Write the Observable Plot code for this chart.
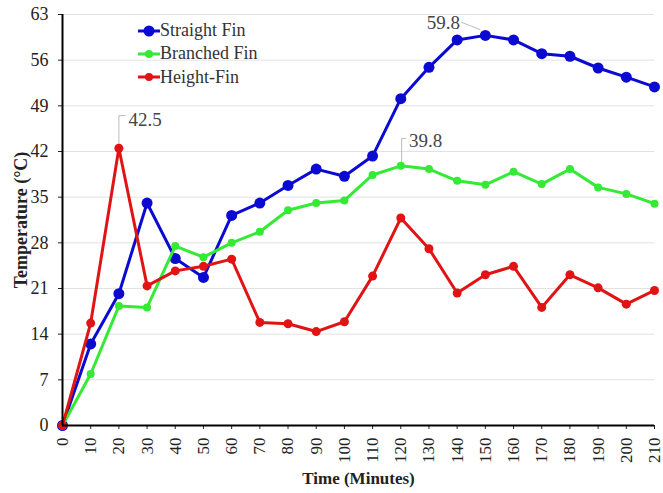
<!DOCTYPE html>
<html><head><meta charset="utf-8">
<script src="https://cdn.jsdelivr.net/npm/d3@7"></script>
<script src="https://cdn.jsdelivr.net/npm/@observablehq/plot@0.6"></script>
<style>
body{margin:0;background:#fff;}
#wrap{position:relative;width:663px;height:493px;}
#legend{position:absolute;left:138px;top:19px;font-size:18px;color:#333;line-height:23.3px;}
#legend div{display:flex;align-items:center;}
</style></head>
<body><div id="wrap"></div>
<script>
const times = [0,10,20,30,40,50,60,70,80,90,100,110,120,130,140,150,160,170,180,190,200,210];
const straightFin = [0,12.5,20.2,34.1,25.6,22.7,32.2,34.1,36.8,39.3,38.2,41.3,50.1,54.9,59.1,59.8,59.1,57.0,56.6,54.8,53.4,51.9];
const branchedFin = [0,7.9,18.3,18.1,27.5,25.8,28.0,29.7,33.0,34.1,34.5,38.4,39.8,39.3,37.5,36.9,38.9,37.0,39.3,36.5,35.5,34.0];
const heightFin   = [0,15.7,42.5,21.4,23.7,24.4,25.5,15.8,15.6,14.4,15.9,22.9,31.8,27.1,20.3,23.1,24.4,18.1,23.1,21.1,18.6,20.7];
const seriesNames = ["Straight Fin","Branched Fin","Height-Fin"];
const seriesColors = ["#0a0ad0","#35ea35","#e01414"];
const dotRadius = [5.5,4,4.5];
const xTicks = d3.range(0,211,10);
const yTicks = d3.range(0,64,7);
const annLabels = [
  {text:"42.5", x:23.4, y:46.9, anchor:"start"},
  {text:"59.8", x:141, y:61.7, anchor:"end"},
  {text:"39.8", x:122.9, y:43.6, anchor:"start"}
];
const leaders = [
  [[20,42.5],[20,47.5],[22.3,47.5]],
  [[148,60.7],[141.6,61.8]],
  [[120.3,39.9],[120.3,44.0],[121.8,44.0]]
];
const SERIF = "'Liberation Serif', serif";

const allSeries = seriesNames.map((name,i)=>({name, values:[straightFin,branchedFin,heightFin][i]}));
const marks = [
  Plot.gridY(yTicks.filter(d=>d>0), {stroke:"#e2e2e2", strokeOpacity:1, strokeWidth:1}),
  Plot.axisY({ticks:yTicks, tickSize:4, tickPadding:10, fontSize:18, label:"Temperature (°C)", labelAnchor:"center", labelArrow:"none", labelOffset:48}),
  Plot.axisX({ticks:xTicks, tickSize:4, tickPadding:8, tickRotate:-90, fontSize:17, label:"Time (Minutes)", labelAnchor:"center", labelArrow:"none", labelOffset:58}),
];
leaders.forEach(pts=>marks.push(Plot.line(pts,{x:d=>d[0],y:d=>d[1],stroke:"#aaa",strokeWidth:0.8})));
allSeries.forEach((s,i)=>{
  const data = times.map((t,j)=>({t, v:s.values[j]}));
  marks.push(Plot.line(data,{x:"t",y:"v",stroke:seriesColors[i],strokeWidth:3}));
  marks.push(Plot.dot(data,{x:"t",y:"v",fill:seriesColors[i],r:dotRadius[i]}));
});
marks.push(Plot.ruleX([0],{stroke:"#000",strokeWidth:2}));
marks.push(Plot.ruleY([0],{stroke:"#000",strokeWidth:2}));
["start","end"].forEach(a=>marks.push(Plot.text(annLabels.filter(d=>d.anchor===a),{x:"x",y:"y",text:"text",textAnchor:a,fontSize:19,fill:"#444"})));

const chart = Plot.plot({
  width:663, height:493,
  marginLeft:62, marginRight:9, marginTop:14, marginBottom:68,
  style:{fontFamily:SERIF, fontSize:"18px", color:"#222", background:"#fff", overflow:"visible"},
  x:{domain:[0,210]},
  y:{domain:[0,63]},
  marks
});
d3.select(chart).selectAll("text, g").style("font-family", SERIF);
d3.select(chart).selectAll('[aria-label="x-axis label"] text, [aria-label="y-axis label"] text').style("font-weight","bold");
const wrap = document.getElementById("wrap");
wrap.appendChild(chart);
const leg = document.createElement("div");
leg.id="legend";
leg.style.fontFamily = SERIF;
seriesNames.forEach((n,i)=>{
  const row=document.createElement("div");
  row.innerHTML=`<svg width="22" height="14"><line x1="0" x2="22" y1="7" y2="7" stroke="${seriesColors[i]}" stroke-width="3"/><circle cx="11" cy="7" r="${i==0?5.5:4}" fill="${seriesColors[i]}"/></svg><span style="font-family:${SERIF.replace(/'/g,'&quot;')}">${n}</span>`;
  leg.appendChild(row);
});
wrap.appendChild(leg);
</script></body></html>
